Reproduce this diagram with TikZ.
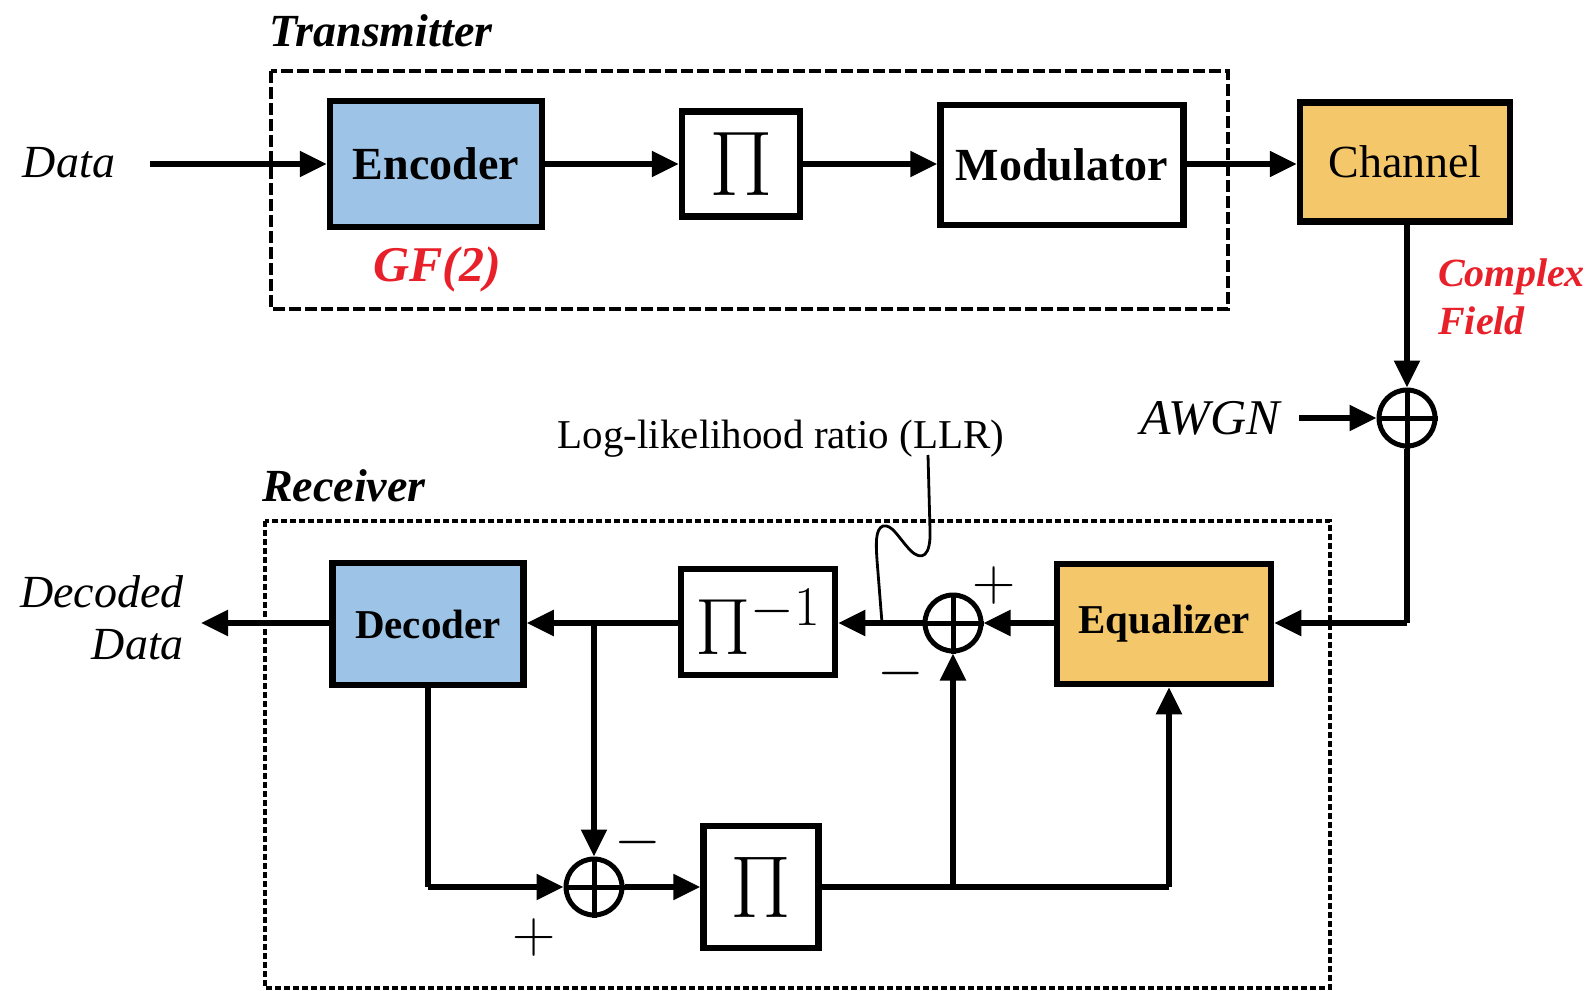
\documentclass[tikz,border=0pt]{standalone}
\usepackage{fix-cm}
\usepackage{fontspec}
\setmainfont{Liberation Serif}
\usetikzlibrary{arrows.meta}
\newcommand{\fsz}[1]{\fontsize{#1}{#1}\selectfont}
\definecolor{blu}{HTML}{9DC3E6}
\definecolor{org}{HTML}{F5C76B}
\definecolor{rd}{HTML}{E8202A}
\begin{document}
\begin{tikzpicture}[x=1pt,y=-1pt,
  blk/.style={draw, line width=6.5pt, inner sep=0pt, align=center},
  ln/.style={line width=5.5pt},
  arr/.style={line width=5.5pt, -{Triangle[length=27pt,width=25pt]}},
  adder/.style={circle, draw, line width=5pt, minimum size=56pt, inner sep=0pt},
  txt/.style={inner sep=0pt},
  pm/.style={inner sep=0pt, font=\fsz{60}}
]
\useasboundingbox (0,0) rectangle (1594,990);

% ---------- Transmitter ----------
\draw[line width=4.5pt, dash pattern=on 12pt off 4pt] (271,71) rectangle (1228,309);
\node[txt, anchor=west, font=\fsz{46}\bfseries\itshape] (tx) at (269,31) {Transmitter};

\node[txt, font=\fsz{46}\itshape] (data) at (69,163) {Data};
\coordinate (din) at (150,164);

\node[blk, fill=blu, minimum width=212pt, minimum height=126pt, font=\fsz{46}\bfseries] (enc) at (436,164) {Encoder};
\node[txt, font=\fsz{50}\bfseries\itshape, text=rd] (gf) at (437,269) {GF(2)};
\node[blk, minimum width=118pt, minimum height=105pt, font=\fsz{92}] (pi1) at (741,164) {$\Pi$};
\node[blk, minimum width=243pt, minimum height=120pt, font=\fsz{46}\bfseries] (mod) at (1062,165) {Modulator};
\node[blk, fill=org, minimum width=210pt, minimum height=119pt, font=\fsz{46}] (ch) at (1405,162) {Channel};

\draw[arr] (din) -- (enc.west);
\draw[arr] (enc.east) -- (pi1.west);
\draw[arr] (pi1.east) -- (pi1.east -| mod.west);
\draw[arr] (mod.east |- pi1.east) -- (mod.east |- pi1.east -| ch.west);

% ---------- channel / noise ----------
\node[adder] (add1) at (1407,418) {};
\draw[line width=5pt] (add1.north) -- (add1.south) (add1.west) -- (add1.east);
\node[txt, anchor=west, align=left, font=\fsz{40}\bfseries\itshape, text=rd] (cf) at (1438,297) {Complex\\[8pt]Field};
\node[txt, font=\fsz{50}\itshape] (awgn) at (1210,418) {AWGN};
\coordinate (nin) at (1299,418);
\draw[arr] (ch.south -| add1.north) -- (add1.north);
\draw[arr] (nin) -- (add1.west);

% ---------- Receiver ----------
\draw[line width=3.5pt, dash pattern=on 6pt off 3pt] (265,521) rectangle (1330,988);
\node[txt, anchor=west, font=\fsz{46}\bfseries\itshape] (rx) at (262,486) {Receiver};
\node[txt, font=\fsz{41}] (llr) at (781,439) {Log-likelihood ratio (LLR)};

\node[blk, fill=org, minimum width=214pt, minimum height=120pt, font=\fsz{41}\bfseries] (eq) at (1164,624) {Equalizer};
\node[adder] (add2) at (953,623) {};
\draw[line width=5pt] (add2.north) -- (add2.south) (add2.west) -- (add2.east);
\node[blk, minimum width=154pt, minimum height=106pt, font=\fsz{80}] (pinv) at (758,622) {$\Pi^{-1}$};
\node[blk, fill=blu, minimum width=191pt, minimum height=122pt, font=\fsz{41}\bfseries] (dec) at (428,624) {Decoder};
\node[txt, anchor=east, align=right, font=\fsz{46}\itshape] (dd) at (184,618) {Decoded\\[6pt]Data};
\coordinate (dout) at (201,623);

\node[adder] (add3) at (594,887) {};
\draw[line width=5pt] (add3.north) -- (add3.south) (add3.west) -- (add3.east);
\node[blk, minimum width=115pt, minimum height=122pt, font=\fsz{88}] (pi2) at (761,887) {$\Pi$};

\coordinate (br) at (594,623);
\coordinate (jn) at (953,887);
\coordinate (eqin) at (1169,887);

% connectors
\draw[ln] (add1.south) -- (add1.south |- add2.east);
\draw[arr] (add1.south |- add2.east) -- (add2.east -| eq.east);
\draw[arr] (eq.west |- add2.east) -- (add2.east);
\draw[arr] (add2.west) -- (add2.west -| pinv.east);
\draw[arr] (pinv.west |- add2.west) -- (add2.west -| dec.east);
\draw[arr] (dec.west |- add2.west) -- (dout);
\draw[arr] (br) -- (add3.north);
\draw[ln] (dec.south) -- (dec.south |- add3.west);
\draw[arr] (dec.south |- add3.west) -- (add3.west);
\draw[arr] (add3.east) -- (pi2.west);
\draw[ln] (pi2.east) -- (eqin);
\draw[arr] (eqin) -- (eqin |- eq.south);
\draw[arr] (jn) -- (add2.south);

% LLR wavy pointer
\draw[line width=2.8pt] (928,455) -- (930,530) .. controls (931,556) and (922,562) .. (910,550)
  .. controls (898,537) and (892,524) .. (883,526) .. controls (875,529) and (876,545) .. (877,560) -- (882,623);

% signs
\node[pm] (p2) at (994,585) {$+$};
\node[pm] (m2) at (901,673) {$-$};
\node[pm] (m3) at (638,842) {$-$};
\node[pm] (p3) at (534,937) {$+$};
\end{tikzpicture}
\end{document}
